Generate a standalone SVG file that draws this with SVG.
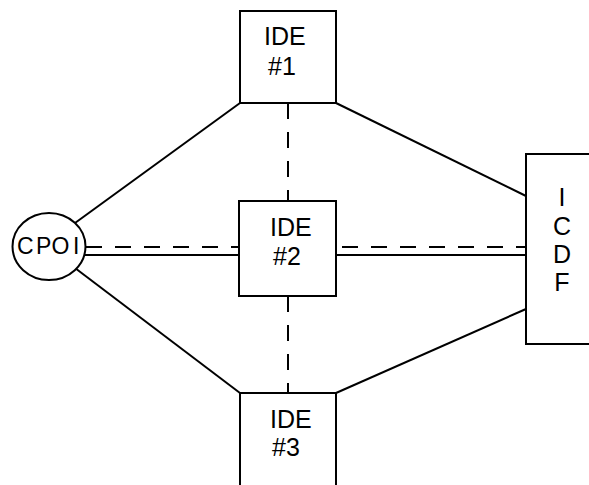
<svg xmlns="http://www.w3.org/2000/svg" width="589" height="485" viewBox="0 0 589 485">
<style>
.box{fill:#fff;stroke:#000;stroke-width:2}
.ln{stroke:#000;stroke-width:2;fill:none}
.dash{stroke:#000;stroke-width:2;fill:none;stroke-dasharray:16 13}
.t{font-family:"Liberation Sans",Arial,sans-serif;font-size:25px;fill:#000}
.c{font-family:"Liberation Sans",Arial,sans-serif;font-size:23px;fill:#000}
</style>
<rect width="589" height="485" fill="#fff"/>
<g id="connectors">
<line class="ln" x1="75" y1="223" x2="240" y2="103"/>
<line class="ln" x1="75" y1="268" x2="240" y2="393"/>
<line class="ln" x1="336" y1="103" x2="526" y2="196"/>
<line class="ln" x1="336" y1="393" x2="526" y2="309"/>
<line class="dash" x1="86" y1="247" x2="239" y2="247"/>
<line class="ln" x1="84" y1="255" x2="239" y2="255"/>
<line class="dash" x1="342" y1="247" x2="526" y2="247"/>
<line class="ln" x1="336" y1="255" x2="526" y2="255"/>
<line class="dash" x1="288" y1="103" x2="288" y2="201"/>
<line class="dash" x1="288" y1="296" x2="288" y2="393"/>
</g>
<g id="cpoi">
<ellipse class="box" cx="49" cy="246.5" rx="36.5" ry="33.5"/>
<text class="c" x="17 36 51.5 73" y="254">CPOI</text>
</g>
<g id="ide1">
<rect class="box" x="240" y="11" width="96" height="92"/>
<text class="t" x="264" y="45">IDE</text>
<text class="t" x="268" y="75">#1</text>
</g>
<g id="ide2">
<rect class="box" x="239" y="201" width="97" height="95"/>
<text class="t" x="270" y="236">IDE</text>
<text class="t" x="273" y="265">#2</text>
</g>
<g id="ide3">
<rect class="box" x="240" y="393" width="96" height="100"/>
<text class="t" x="270" y="428">IDE</text>
<text class="t" x="272" y="456">#3</text>
</g>
<g id="icdf">
<rect class="box" x="526" y="154" width="70" height="190"/>
<text class="t" text-anchor="middle" x="562" y="206">I</text>
<text class="t" text-anchor="middle" x="562" y="235">C</text>
<text class="t" text-anchor="middle" x="562" y="263">D</text>
<text class="t" text-anchor="middle" x="562" y="291">F</text>
</g>
</svg>
